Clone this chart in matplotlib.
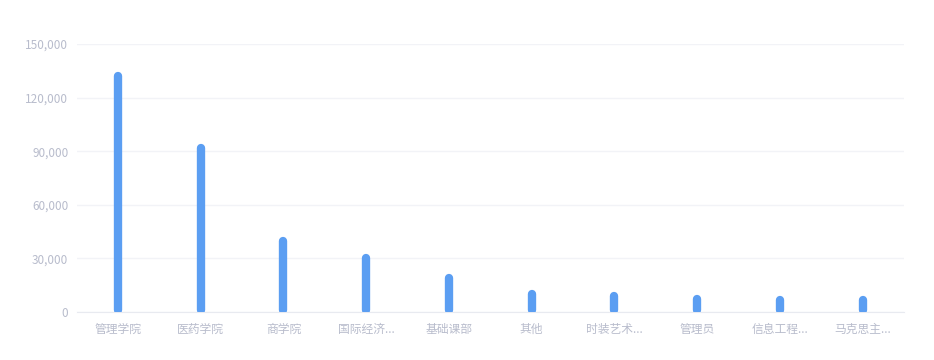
import matplotlib
matplotlib.use("Agg")
import matplotlib.pyplot as plt
from matplotlib.ticker import FuncFormatter

plt.rcParams['font.family'] = ['Noto Sans CJK SC', 'DejaVu Sans']

# Data
categories = ['管理学院', '医药学院', '商学院', '国际经济...', '基础课部',
              '其他', '时装艺术...', '管理员', '信息工程...', '马克思主...']
values = [132000, 92000, 39800, 30500, 19000, 10000, 9000, 7500, 7000, 6500]
yticks = [0, 30000, 60000, 90000, 120000, 150000]

bar_color = '#5B9EF2'
text_color = '#B8BCCC'

fig = plt.figure(figsize=(9.34, 3.6), dpi=100)
ax = fig.add_axes([0.082, 0.1333, 0.886, 0.7445])

x = list(range(len(categories)))
# each bar is a thick line with round caps
start = 1200
for xi, v in zip(x, values):
    ax.plot([xi, xi], [start, v], color=bar_color, linewidth=6,
            solid_capstyle='round', zorder=3)

ax.set_xlim(-0.5, len(categories) - 0.5)
ax.set_ylim(0, 150000)
ax.set_yticks(yticks)
ax.yaxis.set_major_formatter(FuncFormatter(lambda v, p: f'{int(v):,}'))
ax.set_xticks(x)
ax.set_xticklabels(categories)

ax.grid(axis='y', color='#F2F3F7', linewidth=1, zorder=0)
for s in ['top', 'right', 'left']:
    ax.spines[s].set_visible(False)
ax.spines['bottom'].set_color('#E8EAF0')
ax.tick_params(axis='both', length=0, colors=text_color, labelsize=8.5)
ax.tick_params(axis='y', pad=6)
ax.tick_params(axis='x', pad=8)

fig.savefig('out.png', dpi=100)
